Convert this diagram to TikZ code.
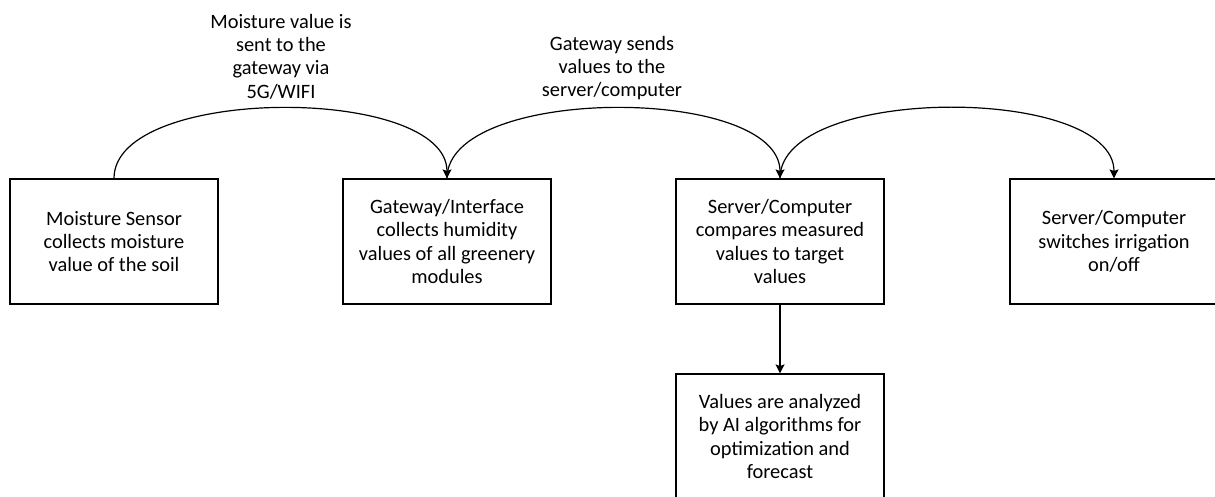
\documentclass[tikz,border=0pt]{standalone}
\usepackage{fontspec}
\setmainfont{Carlito}
\usetikzlibrary{arrows.meta}
\begin{document}
\begin{tikzpicture}[x=0.5pt,y=0.5pt,
  stage/.style={draw, line width=0.6pt, minimum width=104pt, minimum height=62.5pt,
    inner sep=0pt, align=center, font=\fontsize{10.2pt}{11.7pt}\selectfont},
  note/.style={inner sep=0pt, align=center, font=\fontsize{10.2pt}{11.7pt}\selectfont},
  flow/.style={line width=0.6pt, -{Stealth[length=4.5pt,width=4.5pt,inset=0.8pt]}},
  hop/.style={flow, out=90, in=90, looseness=0.72}]
\useasboundingbox (0,0) rectangle (1215,497);

% process stages
\node[stage] (sensor)  at (114,255.5)  {Moisture Sensor\\collects moisture\\value of the soil};
\node[stage] (gateway) at (447,255.5)  {Gateway/Interface\\collects humidity\\values of all greenery\\modules};
\node[stage] (server)  at (780,255.5)  {Server/Computer\\compares measured\\values to target\\values};
\node[stage] (switch)  at (1114,255.5) {Server/Computer\\switches irrigation\\on/off};
\node[stage] (ai)      at (780,60.5)   {Values are analyzed\\by AI algorithms for\\optimization and\\forecast};

% transmission labels
\node[note] (tx1) at (281,440.5) {Moisture value is\\sent to the\\gateway via\\5G/WIFI};
\node[note] (tx2) at (612,429)   {Gateway sends\\values to the\\server/computer};

% data flow
\draw[hop] (sensor.north)  to (gateway.north);
\draw[hop] (gateway.north) to (server.north);
\draw[hop] (server.north)  to (switch.north);
\draw[flow] (server.south) -- (ai.north);
\end{tikzpicture}
\end{document}
